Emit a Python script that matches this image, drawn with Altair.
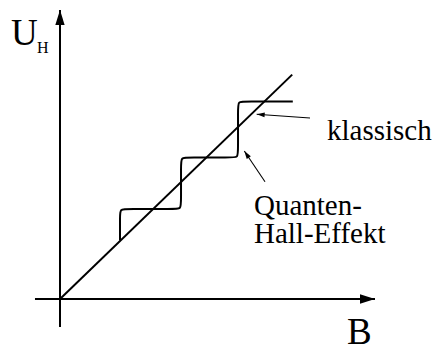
import math
import altair as alt
import pandas as pd

# Classical Hall voltage: straight line through the origin
classical_B = [0.0, 3.87]
classical_U = [0.0, 3.74]

# Quantum Hall staircase; corner control points smoothed by a basis spline
qhe_B = [1.000, 1.000, 1.000, 1.120, 1.900, 2.017, 2.017, 2.017, 2.017,
         2.135, 2.850, 2.967, 2.967, 2.967, 2.967, 3.085, 3.880]
qhe_U = [0.980, 1.380, 1.500, 1.500, 1.500, 1.500, 1.620, 2.240, 2.358,
         2.358, 2.358, 2.358, 2.475, 3.175, 3.292, 3.292, 3.292]

# Coordinate axes (with arrow tips)
axis_B_start = [-0.417, 0.0]
axis_B_end = [5.25, 0.0]
axis_U_start = [0.0, -0.467]
axis_U_end = [0.0, 4.817]

# Pointer arrows from the labels to the curves
pointer_B_start = [4.167, 3.417]
pointer_U_start = [3.017, 1.955]
pointer_B_end = [3.278, 3.072]
pointer_U_end = [3.078, 2.467]

# Text labels
label_text = ["U", "H", "B", "klassisch", "Quanten-", "Hall-Effekt"]
label_B = [-0.817, -0.383, 4.783, 4.45, 3.233, 3.233]
label_U = [4.233, 4.10, -0.75, 2.65, 1.40, 0.933]
label_size = [37, 16, 37, 29, 29, 29]

PX_PER_UNIT = 60.0

xs = alt.Scale(domain=[-1.0, 6.3], nice=False, zero=False)
ys = alt.Scale(domain=[-0.8333, 4.9833], nice=False, zero=False)
X = lambda f: alt.X(f, type="quantitative", scale=xs, axis=None)
Y = lambda f: alt.Y(f, type="quantitative", scale=ys, axis=None)

classical_df = pd.DataFrame({"B": classical_B, "U": classical_U,
                             "i": range(len(classical_B))})
qhe_df = pd.DataFrame({"B": qhe_B, "U": qhe_U, "i": range(len(qhe_B))})

axes_df = pd.DataFrame({"B0": axis_B_start, "U0": axis_U_start,
                        "B1": axis_B_end, "U1": axis_U_end})


def heads(b0, u0, b1, u1, length_px):
    """Arrow-head symbols: centre placed half a head-length behind each tip."""
    rows = []
    for xa, ya, xb, yb in zip(b0, u0, b1, u1):
        dx = (xb - xa) * PX_PER_UNIT
        dy = -(yb - ya) * PX_PER_UNIT
        n = math.hypot(dx, dy)
        ang = math.degrees(math.atan2(dx, -dy)) % 360
        r = length_px / 2.0
        rows.append({
            "B": xb - (dx / n) * r / PX_PER_UNIT,
            "U": yb + (dy / n) * r / PX_PER_UNIT,
            "angle": ang,
            "size": length_px ** 2,
        })
    return pd.DataFrame(rows)


axis_heads = heads([0.0, 0.0], [0.0, 0.0],
                   [axis_B_end[0], axis_U_end[0]],
                   [axis_B_end[1], axis_U_end[1]], 15)
pointer_heads = heads(pointer_B_start, pointer_U_start,
                      pointer_B_end, pointer_U_end, 8)

pointer_df = pd.DataFrame({"B0": pointer_B_start, "U0": pointer_U_start,
                           "B1": pointer_B_end, "U1": pointer_U_end})

ARROW = "M0,-1L0.62,1L-0.62,1Z"

axes = alt.Chart(axes_df).mark_rule(color="black", strokeWidth=2).encode(
    x=X("B0"), y=Y("U0"), x2="B1", y2="U1")

axis_tips = alt.Chart(axis_heads).mark_point(
    shape=ARROW, filled=True, color="black", opacity=1, strokeWidth=0
).encode(x=X("B"), y=Y("U"),
         angle=alt.Angle("angle:Q", scale=None),
         size=alt.Size("size:Q", scale=None))

classical = alt.Chart(classical_df).mark_line(
    color="black", strokeWidth=2).encode(
    x=X("B"), y=Y("U"), order="i:Q")

qhe = alt.Chart(qhe_df).mark_line(
    color="black", strokeWidth=2, interpolate="basis").encode(
    x=X("B"), y=Y("U"), order="i:Q")

pointers = alt.Chart(pointer_df).mark_rule(
    color="black", strokeWidth=1.1).encode(
    x=X("B0"), y=Y("U0"), x2="B1", y2="U1")

pointer_tips = alt.Chart(pointer_heads).mark_point(
    shape=ARROW, filled=True, color="black", opacity=1, strokeWidth=0
).encode(x=X("B"), y=Y("U"),
         angle=alt.Angle("angle:Q", scale=None),
         size=alt.Size("size:Q", scale=None))

# each label is its own text layer
label_layers = []
for t, b, u, fs in zip(label_text, label_B, label_U, label_size):
    one = pd.DataFrame({"B": [b], "U": [u], "t": [t]})
    label_layers.append(
        alt.Chart(one).mark_text(
            align="left", baseline="alphabetic",
            font="Liberation Serif", fontSize=fs
        ).encode(x=X("B"), y=Y("U"), text="t:N")
    )

chart = alt.layer(
    *label_layers, axes, axis_tips, classical, qhe, pointers, pointer_tips
).properties(
    width=438, height=349, padding=0,
    autosize=alt.AutoSizeParams(type="none"),
).configure_view(strokeWidth=0)

chart.save("out.html", embed_options={"renderer": "svg", "actions": False})
